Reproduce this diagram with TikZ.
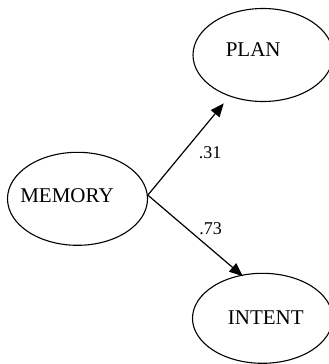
\documentclass[tikz,border=0pt]{standalone}
\usepackage{fontspec}
\setmainfont{Liberation Serif}
\usetikzlibrary{shapes.geometric,arrows.meta}
\newcommand\offtext[3]{\raisebox{#2}[\height][\depth]{\makebox[0pt]{\hspace{#1}#3}}}
\tikzset{
  var/.style={draw=black, line width=1.1pt, ellipse, inner sep=0pt,
    minimum width=140pt, minimum height=93pt,
    font=\fontsize{21}{25}\selectfont},
  coef/.style={inner sep=0pt, font=\fontsize{18}{22}\selectfont},
  path/.style={draw=black, line width=1.2pt, -{Triangle[length=13.5pt,width=11pt]}}
}
\begin{document}
\begin{tikzpicture}[x=1pt,y=-1pt]
\useasboundingbox (0,0) rectangle (329,364);
\node[var] (mem) at (77.5,198.8) {\offtext{-21pt}{3.3pt}{MEMORY}};
\node[var] (plan) at (263,55) {\offtext{-19.6pt}{5.5pt}{PLAN}};
\node[var, minimum height=90pt] (intent) at (262.5,318.3) {\offtext{6.6pt}{0.8pt}{INTENT}};
\draw[path, shorten >=9pt] (mem.3) -- (plan.231.8);
\draw[path, shorten >=-2pt] (mem.3) -- (intent.116.6);
\node[coef] (c1) at (210,153) {.31};
\node[coef] (c2) at (210.5,229) {.73};
\end{tikzpicture}
\end{document}
